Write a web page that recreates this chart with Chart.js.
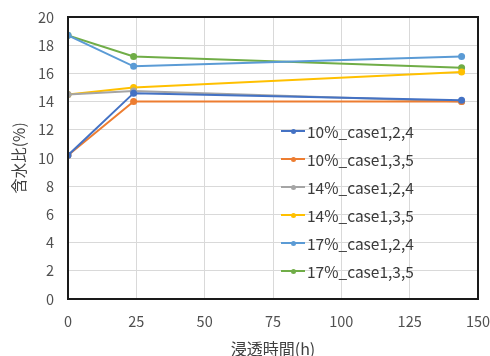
<!DOCTYPE html>
<html>
<head>
<meta charset="utf-8">
<script src="https://cdn.jsdelivr.net/npm/chart.js@4"></script>
<style>
    html, body { margin: 0; padding: 0; background: #fff; }
    .wrap { position: relative; width: 490px; height: 356px; }
    #legend {
        position: absolute; left: 281px; top: 117px;
        font-family: 'Noto Sans CJK JP', 'Noto Sans', sans-serif;
        font-size: 15.5px; color: #3a3a3a;
    }
    #legend .row { display: flex; align-items: center; height: 28px; }
    #legend .mark { position: relative; width: 24px; height: 2px; margin-right: 2px; }
    #legend .mark i {
        position: absolute; left: 10px; top: -1.5px; width: 5px; height: 5px; border-radius: 50%;
    }
</style>
</head>
<body>
<div class="wrap">
    <canvas id="chart" width="490" height="356"></canvas>
    <div id="legend"></div>
</div>
<script>
'use strict';

/* ── Data ── */
const hours = [0, 24, 144];
const labels = ['10%_case1,2,4', '10%_case1,3,5', '14%_case1,2,4', '14%_case1,3,5', '17%_case1,2,4', '17%_case1,3,5'];
const w10a = [10.2, 14.6, 14.1];
const w10b = [10.2, 14.0, 14.0];
const w14a = [14.5, 14.75, 14.0];
const w14b = [14.5, 15.0, 16.1];
const w17a = [18.7, 16.5, 17.2];
const w17b = [18.7, 17.2, 16.4];
const xTicks = [0, 25, 50, 75, 100, 125, 150];
const yTicks = [0, 2, 4, 6, 8, 10, 12, 14, 16, 18, 20];

/* ── Palette ── */
const COLORS = ['#4472C4', '#ED7D31', '#A5A5A5', '#FFC000', '#5B9BD5', '#70AD47'];
const series = [w10a, w10b, w14a, w14b, w17a, w17b];

const FONT = "'Noto Sans CJK JP', 'Noto Sans', sans-serif";
Chart.defaults.font.family = FONT;
Chart.defaults.color = '#505050';

/* frame round the plot area */
const frame = {
    id: 'frame',
    afterDatasetsDraw(chart) {
        const { ctx, chartArea: a } = chart;
        ctx.save();
        ctx.strokeStyle = '#1a1a1a';
        ctx.lineWidth = 2;
        ctx.strokeRect(a.left, a.top, a.right - a.left, a.bottom - a.top);
        ctx.restore();
    },
};

const datasets = series.map((vals, i) => ({
    label: labels[i],
    data: vals.map((v, k) => ({ x: hours[k], y: v })),
    borderColor: COLORS[i],
    backgroundColor: COLORS[i],
    borderWidth: 2,
    pointRadius: 2.5,
    tension: 0,
}));

new Chart(document.getElementById('chart'), {
    type: 'line',
    data: { datasets },
    options: {
        responsive: false,
        animation: false,
        layout: { padding: { top: 17, right: 12, left: 6, bottom: 0 } },
        plugins: { legend: { display: false }, tooltip: { enabled: false } },
        scales: {
            x: {
                type: 'linear',
                min: 0, max: 150,
                afterBuildTicks: s => { s.ticks = xTicks.map(v => ({ value: v })); },
                afterFit: s => { s.height = 57; s.paddingLeft = 0; s.paddingRight = 0; },
                ticks: { font: { size: 14.5 }, padding: 14 },
                grid: { color: '#d9d9d9', drawTicks: false },
                border: { display: false },
                title: { display: true, text: '浸透時間(h)', font: { size: 16 }, color: '#404040', padding: { top: 0, bottom: -3 } },
            },
            y: {
                min: 0, max: 20,
                afterBuildTicks: s => { s.ticks = yTicks.map(v => ({ value: v })); },
                afterFit: s => { s.width = 62; s.paddingTop = 0; s.paddingBottom = 0; },
                ticks: { font: { size: 14.5 }, padding: 14 },
                grid: { color: '#d9d9d9', drawTicks: false },
                border: { display: false },
                title: { display: true, text: '含水比(%)', font: { size: 15.5 }, color: '#404040', padding: { bottom: 0 } },
            },
        },
    },
    plugins: [frame],
});

/* ── Legend inside the plot ── */
document.getElementById('legend').innerHTML = labels.map((l, i) =>
    `<div class="row"><span class="mark" style="background:${COLORS[i]}"><i style="background:${COLORS[i]}"></i></span>${l}</div>`
).join('');
</script>
</body>
</html>
